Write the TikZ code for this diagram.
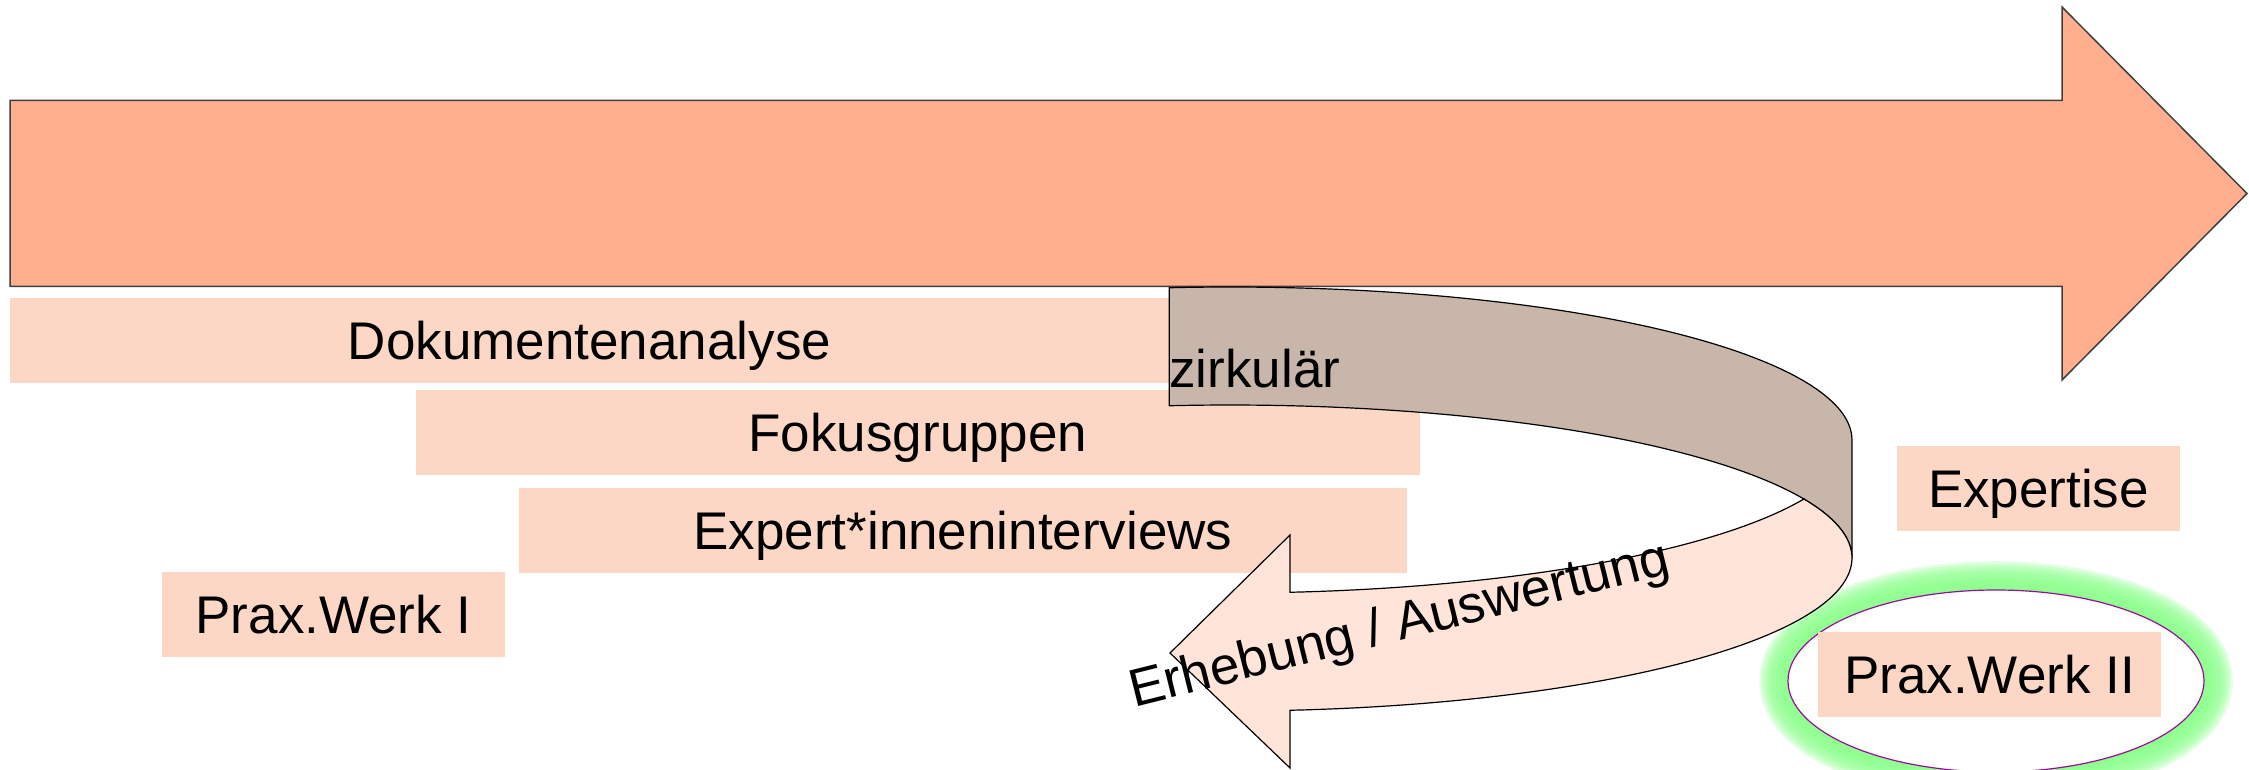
\documentclass[tikz,border=0pt]{standalone}
\usepackage{fontspec}
\setmainfont{Liberation Sans}
\definecolor{bigc}{HTML}{FFAF8D}
\definecolor{boxc}{HTML}{FDD7C6}
\definecolor{brownc}{HTML}{C9B6AB}
\definecolor{frontc}{HTML}{FFE4DA}
\definecolor{glowc}{HTML}{8CFF8C}
\definecolor{ringc}{HTML}{990F99}
\begin{document}
\begin{tikzpicture}[x=0.5pt,y=-0.5pt,
  font=\fontsize{26.5}{30}\selectfont,
  lbl/.style={fill=boxc, inner sep=0pt, text height=19pt, text depth=0pt, minimum height=42.5pt},
  ribbon/.style={line width=0.6pt, draw=black}]
\useasboundingbox (0,0) rectangle (2249,770);
\clip (0,0) rectangle (2249,770);
% big arrow
\draw[fill=bigc, draw=black!75, line width=0.75pt, line join=miter]
  (10,100.5) -- (2062,100.5) -- (2062,7) -- (2247,193.5) -- (2062,380) -- (2062,286.5) -- (10,286.5) -- cycle;
% labelled boxes
\node[lbl, minimum width=579.5pt] (dok) at (589.5,340.5) {Dokumentenanalyse};
\node[lbl, minimum width=502pt] (fok) at (918,432.5) {Fokusgruppen};
\node[lbl, minimum width=444pt] (exi) at (963,530.5) {Expert*inneninterviews};
\node[lbl, minimum width=171.5pt] (pw1) at (333.5,614.5) {Prax.Werk I};
\node[lbl, minimum width=141.5pt] (expt) at (2038.5,488.5) {Expertise};
% glowing ellipse
\foreach \i in {1,...,12}
  \draw[glowc, opacity=0.24, line width=\i*2.4pt] (1996,681) ellipse [x radius=208, y radius=91];
\draw[draw=ringc, fill=white, line width=0.6pt] (1996,681) ellipse [x radius=208, y radius=91];
\node[lbl, minimum width=171.5pt] (pw2) at (1989.5,674.5) {Prax.Werk II};
% circular ribbon: back part
\draw[ribbon, fill=brownc]
  plot[domain=-95.6:0, samples=60] ({1230+622*cos(\x)},{440+153*sin(\x)})
  -- (1852,558)
  -- plot[domain=0:-95.6, samples=60] ({1230+622*cos(\x)},{558+153*sin(\x)})
  -- cycle;
\node[anchor=base west, inner sep=0pt] (zirk) at (1169,387) {zirkulär};
% circular ribbon: front part with arrow head
\draw[ribbon, fill=frontc, line join=miter]
  plot[domain=22.65:84.46, samples=50] ({1230+622*cos(\x)},{440+153*sin(\x)})
  -- (1290,535) -- (1170,653) -- (1290,768) -- (1290,710.3)
  -- plot[domain=84.46:-22.65, samples=70] ({1230+622*cos(\x)},{558+153*sin(\x)})
  -- cycle;
\node[anchor=base, inner sep=0pt, rotate=14] (erh) at (1403,640) {Erhebung / Auswertung};
\end{tikzpicture}
\end{document}
